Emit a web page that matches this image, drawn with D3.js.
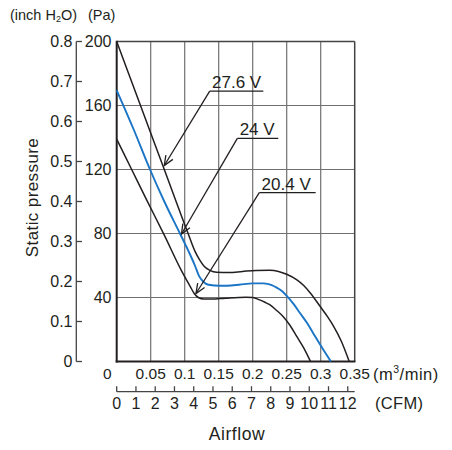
<!DOCTYPE html>
<html>
<head>
<meta charset="utf-8">
<script src="https://cdn.jsdelivr.net/npm/d3@7"></script>
<style>
  html, body { margin: 0; padding: 0; background: #fff; }
  svg { display: block; }
  .narrow { font-family: "Liberation Sans Narrow", "Arial Narrow", "Liberation Sans", Arial, sans-serif; }
  .reg { font-family: "Liberation Sans", Arial, Helvetica, sans-serif; }
</style>
</head>
<body>
<svg id="chart" width="452" height="450"></svg>
<script>
// ---------- data ----------
const m3Ticks = [0, 0.05, 0.1, 0.15, 0.2, 0.25, 0.3, 0.35];
const m3Labels = ["0", "0.05", "0.1", "0.15", "0.2", "0.25", "0.3", "0.35"];
const cfmTicks = [0, 1, 2, 3, 4, 5, 6, 7, 8, 9, 10, 11, 12];
const paTicks = [40, 80, 120, 160, 200];
const inchTicks = [0, 0.1, 0.2, 0.3, 0.4, 0.5, 0.6, 0.7, 0.8];
const inchLabels = ["0", "0.1", "0.2", "0.3", "0.4", "0.5", "0.6", "0.7", "0.8"];

// airflow (m3/min), static pressure (Pa)
const curve276 = [[0,200],[0.035,160],[0.07,120],[0.105,80],[0.115,69],[0.122,63.5],[0.1285,59.5],[0.137,57],[0.147,55.8],[0.165,55.6],[0.185,56.3],[0.205,56.9],[0.225,57],[0.238,56.3],[0.25,54.5],[0.265,51],[0.275,47.5],[0.285,42.7],[0.299,34.5],[0.31,28],[0.319,22],[0.33,13],[0.342,0]];
const curve24 = [[0,169.5],[0.025,145],[0.049,120],[0.07,100],[0.093,80],[0.105,69.5],[0.115,60],[0.121,53.5],[0.127,50],[0.135,48],[0.152,47.3],[0.18,48],[0.2,48.8],[0.216,48.8],[0.228,47.8],[0.236,46],[0.243,44],[0.25,41],[0.26,36],[0.27,30],[0.28,24],[0.289,17.7],[0.3,10],[0.315,0]];
const curve204 = [[0,139],[0.022,120],[0.044,101],[0.07,79],[0.095,57],[0.108,47],[0.114,42.5],[0.12,40],[0.128,39],[0.14,39],[0.16,39.6],[0.19,40.2],[0.2,40],[0.21,38.5],[0.218,37],[0.225,35.5],[0.235,32],[0.245,28],[0.255,22.5],[0.265,15.5],[0.275,8.5],[0.285,0]];

const seriesNames = ["27.6 V", "24 V", "20.4 V"];
// label anchor (start of underline) and arrow tip, in data units (m3/min, Pa)
const labelAnchor = [[0.1368, 169], [0.1774, 139.5], [0.2097, 105.5]];
const labelEnd = [0.2156, 0.2376, 0.2926];
const arrowTip = [[0.070, 122.5], [0.0953, 79.7], [0.1166, 42.5]];

// ---------- scales ----------
const svg = d3.select("#chart");
const x = d3.scaleLinear().domain([0, 0.35]).range([116.7, 354.7]);
const y = d3.scaleLinear().domain([0, 200]).range([361.5, 41.5]);
const yInch = d3.scaleLinear().domain([0, 0.8]).range([361.5, 41.5]);
const CFM_TO_M3 = 0.0283168;
const xCfm = d3.scaleLinear().domain([0, 0.35 / CFM_TO_M3]).range([116.7, 354.7]);

const gridColor = "#707070";
const ink = "#231f20";
const blue = "#1a75c6";

// grid
svg.append("g").selectAll("line").data(m3Ticks.slice(1, -1)).join("line")
  .attr("x1", d => x(d)).attr("x2", d => x(d))
  .attr("y1", y(0)).attr("y2", y(200))
  .attr("stroke", gridColor).attr("stroke-width", 1.2);
svg.append("g").selectAll("line").data(paTicks.slice(0, -1)).join("line")
  .attr("x1", x(0)).attr("x2", x(0.35))
  .attr("y1", d => y(d)).attr("y2", d => y(d))
  .attr("stroke", gridColor).attr("stroke-width", 1.2);

// frame
svg.append("line").attr("x1", x(0)).attr("x2", x(0.35)).attr("y1", y(200)).attr("y2", y(200))
  .attr("stroke", "#444").attr("stroke-width", 1.5);
svg.append("line").attr("x1", x(0.35)).attr("x2", x(0.35)).attr("y1", y(0)).attr("y2", y(200))
  .attr("stroke", "#444").attr("stroke-width", 1.5);
svg.append("line").attr("x1", x(0)).attr("x2", x(0)).attr("y1", y(0) + 1).attr("y2", y(200) - 0.7)
  .attr("stroke", ink).attr("stroke-width", 2);
svg.append("line").attr("x1", x(0) - 1).attr("x2", x(0.35) + 0.7).attr("y1", y(0)).attr("y2", y(0))
  .attr("stroke", ink).attr("stroke-width", 2);

// curves
const line = d3.line().x(d => x(d[0])).y(d => y(d[1])).curve(d3.curveMonotoneX);
[[curve276, ink, 1.5], [curve204, ink, 1.5], [curve24, blue, 1.9]].forEach(([data, c, w]) => {
  svg.append("path").datum(data).attr("d", line)
    .attr("fill", "none").attr("stroke", c).attr("stroke-width", w)
    .attr("stroke-linejoin", "round");
});

// annotations
seriesNames.forEach((name, i) => {
  const ax = x(labelAnchor[i][0]), ay = y(labelAnchor[i][1]);
  const ex = x(labelEnd[i]);
  const tx = x(arrowTip[i][0]), ty = y(arrowTip[i][1]);
  const g = svg.append("g");
  g.append("line").attr("x1", ax).attr("x2", ex).attr("y1", ay).attr("y2", ay)
    .attr("stroke", ink).attr("stroke-width", 1.3);
  g.append("line").attr("x1", ax).attr("x2", tx).attr("y1", ay).attr("y2", ty)
    .attr("stroke", ink).attr("stroke-width", 1.3);
  const ang = Math.atan2(ay - ty, ax - tx);
  const L = 10.5, sp = 0.4;
  const p1 = [tx + L * Math.cos(ang + sp), ty + L * Math.sin(ang + sp)];
  const p2 = [tx + L * Math.cos(ang - sp), ty + L * Math.sin(ang - sp)];
  g.append("path").attr("d", `M${p1[0]},${p1[1]}L${tx},${ty}L${p2[0]},${p2[1]}`)
    .attr("fill", "none").attr("stroke", ink).attr("stroke-width", 1.3);
  g.append("text").attr("class", "reg").attr("x", ax + 2.3).attr("y", ay - 3.2)
    .attr("font-size", 17).attr("fill", ink).text(name);
});

// Pa labels
svg.append("g").selectAll("text").data(paTicks).join("text")
  .attr("class", "narrow").attr("x", 111.5).attr("y", d => y(d)).attr("dy", "0.36em")
  .attr("text-anchor", "end").attr("font-size", 16).attr("fill", ink).text(d => d);

// inch axis
svg.append("line").attr("x1", 76.3).attr("x2", 76.3).attr("y1", yInch(0)).attr("y2", yInch(0.8))
  .attr("stroke", "#444").attr("stroke-width", 1.3);
svg.append("g").selectAll("line").data(inchTicks).join("line")
  .attr("x1", 76.3).attr("x2", 82).attr("y1", d => yInch(d)).attr("y2", d => yInch(d))
  .attr("stroke", "#444").attr("stroke-width", 1.3);
svg.append("g").selectAll("text").data(inchTicks).join("text")
  .attr("class", "narrow").attr("x", 72.5).attr("y", d => yInch(d)).attr("dy", "0.36em")
  .attr("text-anchor", "end").attr("font-size", 16).attr("fill", ink)
  .text((d, i) => inchLabels[i]);

// m3/min labels
svg.append("g").selectAll("text").data(m3Ticks).join("text")
  .attr("class", "narrow").attr("x", (d, i) => i === 0 ? x(d) - 9.5 : x(d)).attr("y", 379)
  .attr("text-anchor", "middle").attr("font-size", 15.5).attr("fill", ink)
  .text((d, i) => m3Labels[i]);
const unit = svg.append("text").attr("class", "reg").attr("x", 373).attr("y", 379.5)
  .attr("font-size", 16.5).attr("letter-spacing", 0.5).attr("fill", ink);
unit.append("tspan").text("(m");
unit.append("tspan").attr("font-size", 10.5).attr("dy", -6.5).text("3");
unit.append("tspan").attr("dy", 6.5).text("/min)");

// CFM axis
const cfmY = 391.7;
svg.append("line").attr("x1", xCfm(0)).attr("x2", x(0.35)).attr("y1", cfmY).attr("y2", cfmY)
  .attr("stroke", "#444").attr("stroke-width", 1.3);
svg.append("g").selectAll("line").data(cfmTicks).join("line")
  .attr("x1", d => xCfm(d)).attr("x2", d => xCfm(d)).attr("y1", cfmY).attr("y2", cfmY - 5.5)
  .attr("stroke", "#444").attr("stroke-width", 1.3);
svg.append("g").selectAll("text").data(cfmTicks).join("text")
  .attr("class", "narrow").attr("x", d => xCfm(d)).attr("y", 408.5)
  .attr("text-anchor", "middle").attr("font-size", 16).attr("fill", ink).text(d => d);
svg.append("text").attr("class", "reg").attr("x", 375).attr("y", 409)
  .attr("font-size", 16.5).attr("letter-spacing", 0.3).attr("fill", ink).text("(CFM)");

// titles
svg.append("text").attr("class", "reg").attr("x", 237).attr("y", 440)
  .attr("text-anchor", "middle").attr("font-size", 17.5).attr("letter-spacing", 0.6)
  .attr("fill", ink).text("Airflow");
svg.append("text").attr("class", "reg")
  .attr("transform", "translate(38,197.5) rotate(-90)")
  .attr("text-anchor", "middle").attr("font-size", 17).attr("letter-spacing", 0.4)
  .attr("fill", ink).text("Static pressure");

const top1 = svg.append("text").attr("class", "reg").attr("x", 10).attr("y", 20)
  .attr("font-size", 14.5).attr("fill", ink);
top1.append("tspan").text("(inch H");
top1.append("tspan").attr("font-size", 9).attr("dy", 2).text("2");
top1.append("tspan").attr("dy", -2).text("O)");
svg.append("text").attr("class", "reg").attr("x", 88).attr("y", 20)
  .attr("font-size", 14.5).attr("fill", ink).text("(Pa)");
</script>
</body>
</html>
